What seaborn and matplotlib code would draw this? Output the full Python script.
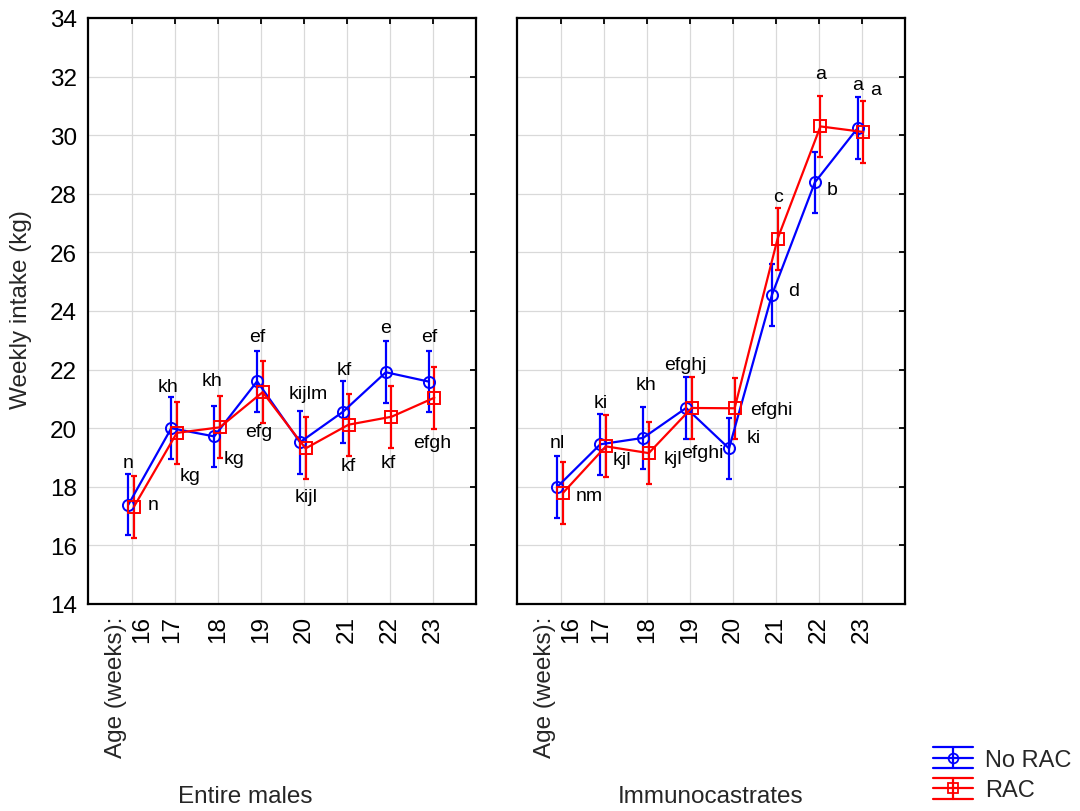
import numpy as np
import pandas as pd
import matplotlib
matplotlib.use("Agg")
import matplotlib.pyplot as plt
import matplotlib.transforms as mtransforms
from matplotlib.lines import Line2D
from matplotlib.legend_handler import HandlerBase
import seaborn as sns

# ---------------- data ----------------
ages = ["16", "17", "18", "19", "20", "21", "22", "23"]
groups = ["Entire males", "Immunocastrates"]
treatments = ["No RAC", "RAC"]

em_norac = [17.39, 20.00, 19.72, 21.60, 19.52, 20.56, 21.91, 21.59]
em_rac = [17.32, 19.84, 20.03, 21.23, 19.31, 20.12, 20.39, 21.04]
ic_norac = [18.00, 19.45, 19.67, 20.69, 19.31, 24.55, 28.39, 30.25]
ic_rac = [17.79, 19.38, 19.15, 20.69, 20.68, 26.46, 30.30, 30.11]

em_norac_ci = [1.05, 1.06, 1.05, 1.05, 1.07, 1.05, 1.05, 1.05]
em_rac_ci = [1.06, 1.06, 1.06, 1.05, 1.06, 1.06, 1.06, 1.06]
ic_norac_ci = [1.05, 1.05, 1.05, 1.05, 1.05, 1.05, 1.05, 1.05]
ic_rac_ci = [1.06, 1.06, 1.06, 1.05, 1.05, 1.05, 1.05, 1.05]

em_norac_lab = ["n", "kh", "kh", "ef", "kijlm", "kf", "e", "ef"]
em_rac_lab = ["n", "kg", "kg", "efg", "kijl", "kf", "kf", "efgh"]
ic_norac_lab = ["nl", "ki", "kh", "efghj", "ki", "d", "b", "a"]
ic_rac_lab = ["nm", "kjl", "kjl", "efghi", "efghi", "c", "a", "a"]

rows = []
for grp, trt, vals, cis, labs in [
    ("Entire males", "No RAC", em_norac, em_norac_ci, em_norac_lab),
    ("Entire males", "RAC", em_rac, em_rac_ci, em_rac_lab),
    ("Immunocastrates", "No RAC", ic_norac, ic_norac_ci, ic_norac_lab),
    ("Immunocastrates", "RAC", ic_rac, ic_rac_ci, ic_rac_lab),
]:
    for i, a in enumerate(ages):
        rows.append(dict(group=grp, treatment=trt, age=a, pos=i,
                         intake=vals[i], ci=cis[i], letters=labs[i]))
df = pd.DataFrame(rows)

# ---------------- layout / style ----------------
# label offsets in pixels (dx, dy up) relative to each point
label_offsets = {
    ("Entire males", "No RAC"): [(0, 42), (-3, 42), (-2, 56), (0, 45), (8, 49), (1, 42), (0, 45), (0, 45)],
    ("Entire males", "RAC"): [(19, 2), (13, -43), (14, -31), (-4, -39), (1, -48), (0, -41), (-3, -46), (-2, -45)],
    ("Immunocastrates", "No RAC"): [(0, 44), (0, 42), (3, 53), (-1, 43), (25, 11), (22, 4), (17, -7), (0, 43)],
    ("Immunocastrates", "RAC"): [(26, -3), (16, -13), (24, -5), (11, -45), (37, -1), (0, 42), (0, 53), (12, 42)],
}
styles = {"No RAC": dict(color="#0000ff", marker="o", off=-0.09),
          "RAC": dict(color="#ff0000", marker="s", off=0.04)}

sns.set_style("white")
plt.rcParams["font.family"] = ["Liberation Sans", "DejaVu Sans"]

fig = plt.figure(figsize=(10.8, 8.12), dpi=100)
W, H = 1080, 812
ax_l = fig.add_axes([88 / W, 1 - 605 / H, 388 / W, 586 / H])
ax_r = fig.add_axes([517 / W, 1 - 605 / H, 388 / W, 586 / H])

for ax, grp in [(ax_l, "Entire males"), (ax_r, "Immunocastrates")]:
    for trt in treatments:
        st = styles[trt]
        sub = df[(df.group == grp) & (df.treatment == trt)]
        x = sub.pos.values + st["off"]
        y = sub.intake.values
        sns.lineplot(x=x, y=y, ax=ax, color=st["color"], marker=st["marker"],
                     markersize=8, markerfacecolor="none", markeredgecolor=st["color"],
                     markeredgewidth=1.4, linewidth=1.6, sort=False, estimator=None,
                     zorder=3)
        ax.errorbar(x, y, yerr=sub.ci.values, fmt="none", ecolor=st["color"],
                    elinewidth=1.6, capsize=2.5, capthick=1.6, zorder=2)
        for xi, yi, lab, (dx, dy) in zip(x, y, sub.letters.values, label_offsets[(grp, trt)]):
            ax.annotate(lab, xy=(xi, yi), xytext=(dx, dy), textcoords="offset pixels",
                        ha="center", va="center", fontsize=14, color="black", zorder=5)

    ax.set_xlim(-1.03, 8.01)
    ax.set_ylim(14, 34)
    ax.set_xticks(range(len(ages)))
    ax.set_xticklabels(ages, rotation=90)
    ax.set_yticks(range(14, 35, 2))
    ax.set_xlabel("")
    ax.set_ylabel("")
    ax.grid(True, color="#d9d9d9", linewidth=0.9)
    ax.set_axisbelow(True)
    for sp in ax.spines.values():
        sp.set_visible(True)
        sp.set_color("black")
        sp.set_linewidth(1.6)
    ax.tick_params(axis="both", direction="in", length=4, width=1.3,
                   top=True, right=True, labelsize=17.5, colors="black")
    ax.tick_params(axis="y", pad=8)
    ax.tick_params(axis="x", pad=8)
    # nudge first tick labels like the original
    tl = ax.get_xticklabels()
    tl[0].set_transform(tl[0].get_transform() + mtransforms.ScaledTranslation(10 / 100, 0, fig.dpi_scale_trans))
    tl[1].set_transform(tl[1].get_transform() + mtransforms.ScaledTranslation(-3 / 100, 0, fig.dpi_scale_trans))
    ax.annotate("Age (weeks):", xy=(-0.38, 0), xycoords=("data", "axes fraction"),
                xytext=(0, -12), textcoords="offset pixels", rotation=90,
                ha="center", va="top", fontsize=17.5)

ax_r.tick_params(axis="y", labelleft=False)

fig.text(21 / W, 1 - 310 / H, "Weekly intake (kg)", rotation=90, ha="center", va="center", fontsize=17.5)
fig.text(245 / W, 1 - 797 / H, "Entire males", ha="center", va="center", fontsize=17.5)
fig.text(711 / W, 1 - 797 / H, "Immunocastrates", ha="center", va="center", fontsize=17.5)


class ErrHandler(HandlerBase):
    def create_artists(self, legend, orig_handle, xdescent, ydescent, width, height, fontsize, trans):
        c = orig_handle.get_color()
        m = orig_handle.get_marker()
        x0, x1 = -xdescent, -xdescent + width
        y0 = -ydescent
        ym = y0 + height / 2
        xm = (x0 + x1) / 2
        arts = [Line2D([x0, x1], [yy, yy], color=c, lw=1.6) for yy in (y0, ym, y0 + height)]
        arts.append(Line2D([xm, xm], [y0, y0 + height], color=c, lw=1.6))
        arts.append(Line2D([xm], [ym], marker=m, markersize=7, markerfacecolor="none",
                           markeredgecolor=c, markeredgewidth=1.3, linestyle="none"))
        for a in arts:
            a.set_transform(trans)
        return arts


handles = [Line2D([], [], color=styles[t]["color"], marker=styles[t]["marker"]) for t in treatments]
fig.legend(handles, treatments, handler_map={Line2D: ErrHandler()}, loc="upper left",
           bbox_to_anchor=(933 / W, 1 - 748 / H), frameon=False, borderpad=0, borderaxespad=0,
           handlelength=1.7, handleheight=1.0, labelspacing=0.3, handletextpad=0.5, fontsize=17)

fig.savefig("out.png", dpi=100)
